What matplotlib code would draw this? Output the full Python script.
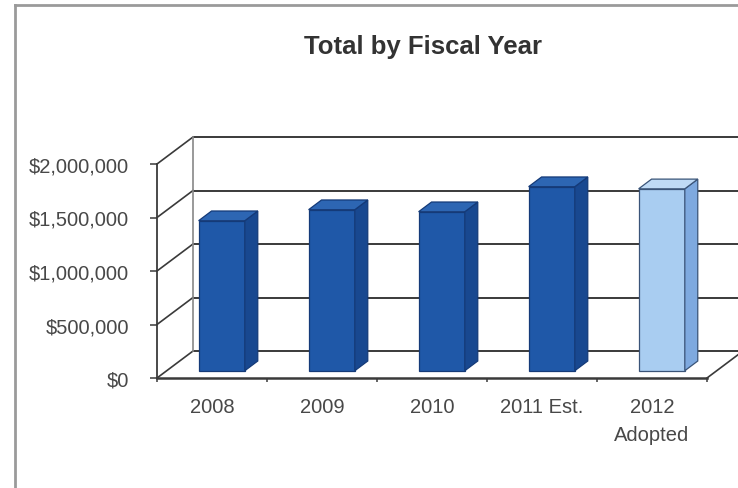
import matplotlib
matplotlib.use("Agg")
import matplotlib.pyplot as plt
from matplotlib.lines import Line2D
from matplotlib.patches import Polygon
from matplotlib.ticker import FuncFormatter

plt.rcParams["font.family"] = ["Liberation Sans", "DejaVu Sans"]

years = ["2008", "2009", "2010", "2011 Est.", "2012\nAdopted"]
totals = [1_402_000, 1_505_000, 1_486_000, 1_720_000, 1_700_000]
y_ticks = [0, 500_000, 1_000_000, 1_500_000, 2_000_000]

# face colours: front, side, top
DARK = ("#1f58a8", "#184890", "#2d66b3")
LIGHT = ("#a9cdf1", "#7ea9df", "#bfdaf5")
bar_faces = [DARK, DARK, DARK, DARK, LIGHT]
bar_edges = ["#143a78", "#143a78", "#143a78", "#143a78", "#3a5478"]

# oblique "3-D" projection: depth 0 = front plane, depth 1 = back wall
DX = 0.327       # in category units
DY = 252_000     # in value units
W = 0.42         # bar width (categories)
D0, D1 = 0.27, 0.63  # bar front/back depth

GRID = "#3a3a3a"
LABEL = "#484848"


def proj(x, v, d):
    return x + d * DX, v + d * DY


fig = plt.figure(figsize=(7.38, 4.89), dpi=100)
ax = fig.add_axes([157 / 738, 110 / 489, 550 / 738, 214 / 489])
ax.set_xlim(0, len(years))
ax.set_ylim(0, y_ticks[-1])

n = len(years)

# back wall gridlines, side-wall diagonals, wall edges
for v in y_ticks:
    ax.plot(*zip(proj(0, v, 1), proj(n, v, 1)), color=GRID, lw=1.4,
            clip_on=False, zorder=1, solid_capstyle="butt")
    ax.plot(*zip(proj(0, v, 0), proj(0, v, 1)), color=GRID, lw=1.2,
            clip_on=False, zorder=1)
ax.plot(*zip(proj(0, 0, 1), proj(0, y_ticks[-1], 1)), color="#888888",
        lw=1.2, clip_on=False, zorder=1)
ax.plot(*zip(proj(n, 0, 0), proj(n, 0, 1)), color=GRID, lw=1.2,
        clip_on=False, zorder=1)

# bars: front, side and top faces
for i, (val, faces, ec) in enumerate(zip(totals, bar_faces, bar_edges)):
    x0, x1 = i + 0.5 - W / 2, i + 0.5 + W / 2
    front = [proj(x0, 0, D0), proj(x1, 0, D0), proj(x1, val, D0), proj(x0, val, D0)]
    side = [proj(x1, 0, D0), proj(x1, 0, D1), proj(x1, val, D1), proj(x1, val, D0)]
    top = [proj(x0, val, D0), proj(x1, val, D0), proj(x1, val, D1), proj(x0, val, D1)]
    for pts, fc in zip((front, side, top), faces):
        ax.add_patch(Polygon(pts, closed=True, facecolor=fc, edgecolor=ec,
                             lw=0.9, clip_on=False, zorder=3))

for side in ("top", "right"):
    ax.spines[side].set_visible(False)
for side in ("left", "bottom"):
    ax.spines[side].set_color(GRID)
ax.spines["left"].set_linewidth(1.3)
ax.spines["bottom"].set_linewidth(1.8)
ax.spines["left"].set_zorder(2)

ax.set_yticks(y_ticks)
ax.yaxis.set_major_formatter(FuncFormatter(lambda v, _: f"${v:,.0f}"))
ax.tick_params(axis="y", length=5, width=1.1, color=GRID, pad=15,
               labelsize=14.5, labelcolor=LABEL)

ax.set_xticks(range(n + 1))
ax.set_xticklabels([])
ax.set_xticks([i + 0.5 for i in range(n)], minor=True)
ax.set_xticklabels(years, minor=True, linespacing=1.55)
ax.tick_params(axis="x", which="major", length=3, width=1.1, color=GRID)
ax.tick_params(axis="x", which="minor", length=0, pad=14, labelsize=14.5,
               labelcolor=LABEL)

fig.text(423 / 738, 1 - 47 / 489, "Total by Fiscal Year", ha="center",
         va="center", fontsize=18.5, fontweight="bold", color="#333333")

# outer frame
fig.add_artist(Line2D([15 / 738, 15 / 738], [0, 1 - 6 / 489],
                      transform=fig.transFigure, color="#9a9a9a", lw=2))
fig.add_artist(Line2D([15 / 738, 1], [1 - 6 / 489, 1 - 6 / 489],
                      transform=fig.transFigure, color="#9a9a9a", lw=2))

fig.savefig("out.png", dpi=100)
